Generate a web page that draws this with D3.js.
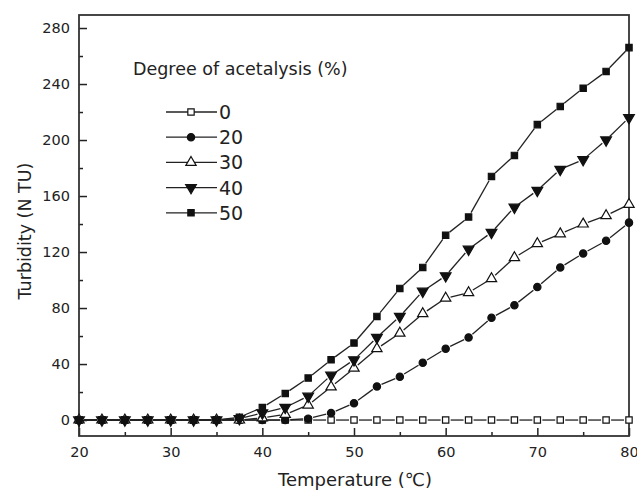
<!DOCTYPE html>
<html>
<head>
<meta charset="utf-8">
<script src="https://cdn.jsdelivr.net/npm/d3@7"></script>
<style>
  body { margin: 0; background: #fff; overflow: hidden; }
  svg { display: block; }
  text { font-family: "DejaVu Sans", sans-serif; fill: #222; }
</style>
</head>
<body>
<svg width="637" height="493"></svg>
<script>
// temperature (C), one point every 2.5 degrees
const temps = [20, 22.5, 25, 27.5, 30, 32.5, 35, 37.5, 40, 42.5, 45, 47.5, 50,
               52.5, 55, 57.5, 60, 62.5, 65, 67.5, 70, 72.5, 75, 77.5, 80]

// turbidity (NTU) per degree of acetalysis
const deg0  = [0, 0, 0, 0, 0, 0, 0, 0, 0, 0, 0, 0, 0, 0, 0, 0, 0, 0, 0, 0, 0, 0, 0, 0, 0]
const deg20 = [0, 0, 0, 0, 0, 0, 0, 0, 0, 0, 1, 5, 12, 24, 31, 41, 51, 59, 73, 82, 95, 109, 119, 128, 141]
const deg30 = [0, 0, 0, 0, 0, 0, 0, 0, 1.5, 4, 10.7, 23.6, 37, 51, 62, 76, 87, 91, 101, 116, 126, 133, 140, 146, 154]
const deg40 = [0, 0, 0, 0, 0, 0, 0, 1, 5, 9, 17, 32, 43, 59, 74, 92, 103, 122, 134, 152, 164, 179, 186, 200, 216]
const deg50 = [0, 0, 0, 0, 0, 0, 0, 2, 9, 19, 30, 43, 55, 74, 94, 109, 132, 145, 174, 189, 211, 224, 237, 249, 266]

const seriesNames = ['0', '20', '30', '40', '50']
const seriesValues = [deg0, deg20, deg30, deg40, deg50]

const xMajor = [20, 30, 40, 50, 60, 70, 80]
const xMinor = [25, 35, 45, 55, 65, 75]
const yMajor = [0, 40, 80, 120, 160, 200, 240, 280]
const yMinor = [20, 60, 100, 140, 180, 220, 260]

const svg = d3.select('svg')
const margin = {top: 15, right: 8, bottom: 57, left: 79}
const width = +svg.attr('width')
const height = +svg.attr('height')
const innerWidth = width - margin.left - margin.right
const innerHeight = height - margin.top - margin.bottom

const xScale = d3.scaleLinear().domain([20, 80]).range([0, innerWidth])
const yScale = d3.scaleLinear().domain([-11.4, 289.3]).range([innerHeight, 0])

const g = svg.append('g').attr('transform', `translate(${margin.left},${margin.top})`)

// ticks point inward, Origin style
const xAxis = d3.axisBottom(xScale).tickValues(xMajor).tickSizeInner(-8).tickSizeOuter(0).tickPadding(11)
const xAxisMinor = d3.axisBottom(xScale).tickValues(xMinor).tickSizeInner(-4).tickSizeOuter(0)
const yAxis = d3.axisLeft(yScale).tickValues(yMajor).tickSizeInner(-8).tickSizeOuter(0).tickPadding(9)
const yAxisMinor = d3.axisLeft(yScale).tickValues(yMinor).tickSizeInner(-4).tickSizeOuter(0)

const styleAxis = sel => {
  sel.select('.domain').remove()
  sel.selectAll('line').attr('stroke', '#222').attr('stroke-width', 1.5)
  sel.selectAll('text').style('font-size', '14.5px').attr('fill', '#222')
}
const dropText = sel => sel.selectAll('text').remove()

g.append('g').attr('transform', `translate(0,${innerHeight})`).call(xAxis).call(styleAxis)
g.append('g').attr('transform', `translate(0,${innerHeight})`).call(xAxisMinor).call(styleAxis).call(dropText)
g.append('g').call(yAxis).call(styleAxis)
g.append('g').call(yAxisMinor).call(styleAxis).call(dropText)

// frame
g.append('rect')
  .attr('x', 0).attr('y', 0)
  .attr('width', innerWidth).attr('height', innerHeight)
  .attr('fill', 'none').attr('stroke', '#333').attr('stroke-width', 1.8)

const symbols = [
  {type: d3.symbolSquare, size: 40, fill: '#fff', rotate: 0},
  {type: d3.symbolCircle, size: 42, fill: '#111', rotate: 0},
  {type: d3.symbolTriangle, size: 46, fill: '#fff', rotate: 0},
  {type: d3.symbolTriangle, size: 50, fill: '#111', rotate: 180},
  {type: d3.symbolSquare, size: 40, fill: '#111', rotate: 0}
]

// lines broken around each symbol
const gap = 5
seriesValues.forEach((vals, si) => {
  const pts = temps.map((t, i) => [xScale(t), yScale(vals[i])])
  const segs = []
  for (let i = 0; i < pts.length - 1; i++) {
    const [x1, y1] = pts[i], [x2, y2] = pts[i + 1]
    const len = Math.hypot(x2 - x1, y2 - y1)
    if (len <= gap * 2 + 1) continue
    const ux = (x2 - x1) / len, uy = (y2 - y1) / len
    segs.push([x1 + ux * gap, y1 + uy * gap, x2 - ux * gap, y2 - uy * gap])
  }
  g.append('g').selectAll('line').data(segs)
    .enter().append('line')
    .attr('x1', d => d[0]).attr('y1', d => d[1])
    .attr('x2', d => d[2]).attr('y2', d => d[3])
    .attr('stroke', '#222').attr('stroke-width', 1.3)
})

seriesValues.forEach((vals, si) => {
  const s = symbols[si]
  g.append('g').selectAll('path').data(vals)
    .enter().append('path')
    .attr('d', d3.symbol().type(s.type).size(s.size))
    .attr('transform', (d, i) => `translate(${xScale(temps[i])},${yScale(d)}) rotate(${s.rotate})`)
    .attr('fill', s.fill).attr('stroke', '#111').attr('stroke-width', 1.2)
})

// legend
const legend = svg.append('g').attr('transform', 'translate(133,0)')
legend.append('text')
  .attr('x', 0).attr('y', 75)
  .style('font-size', '17.5px')
  .text('Degree of acetalysis (%)')

const row = legend.selectAll('.row').data(seriesNames)
  .enter().append('g')
  .attr('transform', (d, i) => `translate(0,${112 + i * 25.2})`)
row.append('line')
  .attr('x1', 33).attr('x2', 84).attr('y1', 0).attr('y2', 0)
  .attr('stroke', '#222').attr('stroke-width', 1.3)
row.append('path')
  .attr('d', (d, i) => d3.symbol().type(symbols[i].type).size(symbols[i].size)())
  .attr('transform', (d, i) => `translate(58,0) rotate(${symbols[i].rotate})`)
  .attr('fill', (d, i) => symbols[i].fill).attr('stroke', '#111').attr('stroke-width', 1.2)
row.append('text')
  .attr('x', 86).attr('y', 7)
  .style('font-size', '19px')
  .text(d => d)

// axis titles
svg.append('text')
  .attr('x', margin.left + xScale(50) + 1).attr('y', 486)
  .attr('text-anchor', 'middle')
  .style('font-size', '18px')
  .text('Temperature (℃)')

svg.append('text')
  .attr('transform', 'translate(31,231) rotate(-90)')
  .attr('text-anchor', 'middle')
  .style('font-size', '17.5px')
  .text('Turbidity (N TU)')
</script>
</body>
</html>
